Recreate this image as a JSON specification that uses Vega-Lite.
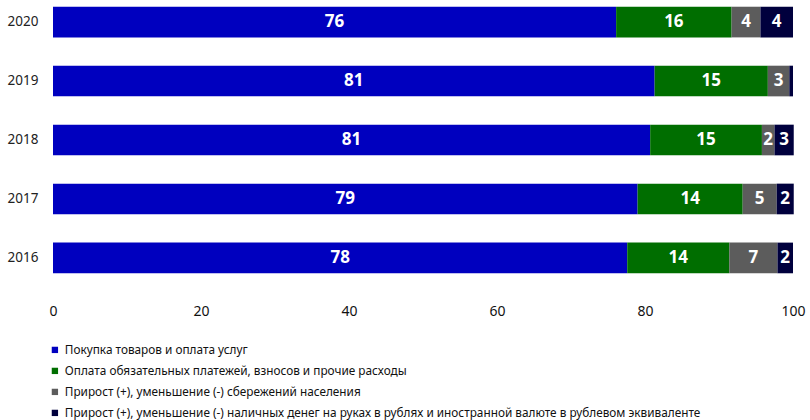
{
  "$schema": "https://vega.github.io/schema/vega-lite/v6.json",
  "width": 740,
  "height": 280,
  "autosize": {"type": "none"},
  "padding": {"left": 53, "top": 0, "right": 17, "bottom": 140},
  "background": "white",
  "config": {"view": {"stroke": null}, "font": "Noto Sans"},
  "data": {"values": [
    {"year": "2020", "cat": "Покупка товаров и оплата услуг", "k": 1, "v": 76.1},
    {"year": "2020", "cat": "Оплата обязательных платежей, взносов и прочие расходы", "k": 2, "v": 15.6},
    {"year": "2020", "cat": "Прирост (+), уменьшение (-) сбережений населения", "k": 3, "v": 3.9},
    {"year": "2020", "cat": "Прирост (+), уменьшение (-) наличных денег  на руках в рублях и иностранной валюте в рублевом эквиваленте", "k": 4, "v": 4.4},
    {"year": "2019", "cat": "Покупка товаров и оплата услуг", "k": 1, "v": 81.3},
    {"year": "2019", "cat": "Оплата обязательных платежей, взносов и прочие расходы", "k": 2, "v": 15.3},
    {"year": "2019", "cat": "Прирост (+), уменьшение (-) сбережений населения", "k": 3, "v": 2.9},
    {"year": "2019", "cat": "Прирост (+), уменьшение (-) наличных денег  на руках в рублях и иностранной валюте в рублевом эквиваленте", "k": 4, "v": 0.5},
    {"year": "2018", "cat": "Покупка товаров и оплата услуг", "k": 1, "v": 80.7},
    {"year": "2018", "cat": "Оплата обязательных платежей, взносов и прочие расходы", "k": 2, "v": 15.1},
    {"year": "2018", "cat": "Прирост (+), уменьшение (-) сбережений населения", "k": 3, "v": 1.7},
    {"year": "2018", "cat": "Прирост (+), уменьшение (-) наличных денег  на руках в рублях и иностранной валюте в рублевом эквиваленте", "k": 4, "v": 2.6},
    {"year": "2017", "cat": "Покупка товаров и оплата услуг", "k": 1, "v": 79.0},
    {"year": "2017", "cat": "Оплата обязательных платежей, взносов и прочие расходы", "k": 2, "v": 14.2},
    {"year": "2017", "cat": "Прирост (+), уменьшение (-) сбережений населения", "k": 3, "v": 4.6},
    {"year": "2017", "cat": "Прирост (+), уменьшение (-) наличных денег  на руках в рублях и иностранной валюте в рублевом эквиваленте", "k": 4, "v": 2.3},
    {"year": "2016", "cat": "Покупка товаров и оплата услуг", "k": 1, "v": 77.6},
    {"year": "2016", "cat": "Оплата обязательных платежей, взносов и прочие расходы", "k": 2, "v": 13.8},
    {"year": "2016", "cat": "Прирост (+), уменьшение (-) сбережений населения", "k": 3, "v": 6.5},
    {"year": "2016", "cat": "Прирост (+), уменьшение (-) наличных денег  на руках в рублях и иностранной валюте в рублевом эквиваленте", "k": 4, "v": 2.1}
  ]},
  "transform": [
    {"stack": "v", "groupby": ["year"], "sort": [{"field": "k", "order": "ascending"}], "as": ["v0", "v1"]},
    {"calculate": "(datum.v0 + datum.v1) / 2", "as": "mid"}
  ],
  "encoding": {
    "y": {
      "field": "year", "type": "nominal",
      "sort": ["2020", "2019", "2018", "2017", "2016"],
      "scale": {"paddingInner": 0.48, "paddingOuter": 0.114},
      "axis": {"title": null, "domain": false, "ticks": false, "labelPadding": 15, "labelFontSize": 13.5, "labelColor": "#222222", "labelFont": "Noto Sans"}
    }
  },
  "layer": [
    {
      "mark": {"type": "bar"},
      "encoding": {
        "x": {
          "field": "v0", "type": "quantitative",
          "scale": {"domain": [0, 100], "nice": false},
          "axis": {"title": null, "values": [0, 20, 40, 60, 80, 100], "domain": false, "ticks": false, "grid": false, "labelPadding": 24, "labelFontSize": 14, "labelColor": "#111111", "labelFont": "Noto Sans", "labelFlush": false}
        },
        "x2": {"field": "v1"},
        "color": {
          "field": "cat", "type": "nominal",
          "scale": {
            "domain": [
              "Покупка товаров и оплата услуг",
              "Оплата обязательных платежей, взносов и прочие расходы",
              "Прирост (+), уменьшение (-) сбережений населения",
              "Прирост (+), уменьшение (-) наличных денег  на руках в рублях и иностранной валюте в рублевом эквиваленте"
            ],
            "range": ["#0000BF", "#006E00", "#5C5C5C", "#00003D"]
          },
          "legend": {
            "title": null, "orient": "none", "legendX": -4, "legendY": 344,
            "symbolType": "square", "symbolSize": 40, "symbolStrokeWidth": 0, "symbolOpacity": 1,
            "labelFontSize": 11.8, "labelFont": "Noto Sans", "labelColor": "#111111",
            "labelOffset": 4, "rowPadding": 8, "labelLimit": 800
          }
        }
      }
    },
    {
      "transform": [{"filter": "datum.v >= 1"}],
      "mark": {"type": "text", "color": "white", "fontWeight": "bold", "fontSize": 17, "font": "Noto Sans", "baseline": "middle"},
      "encoding": {
        "x": {"field": "mid", "type": "quantitative"},
        "text": {"field": "v", "type": "quantitative", "format": ".0f"}
      }
    }
  ]
}
